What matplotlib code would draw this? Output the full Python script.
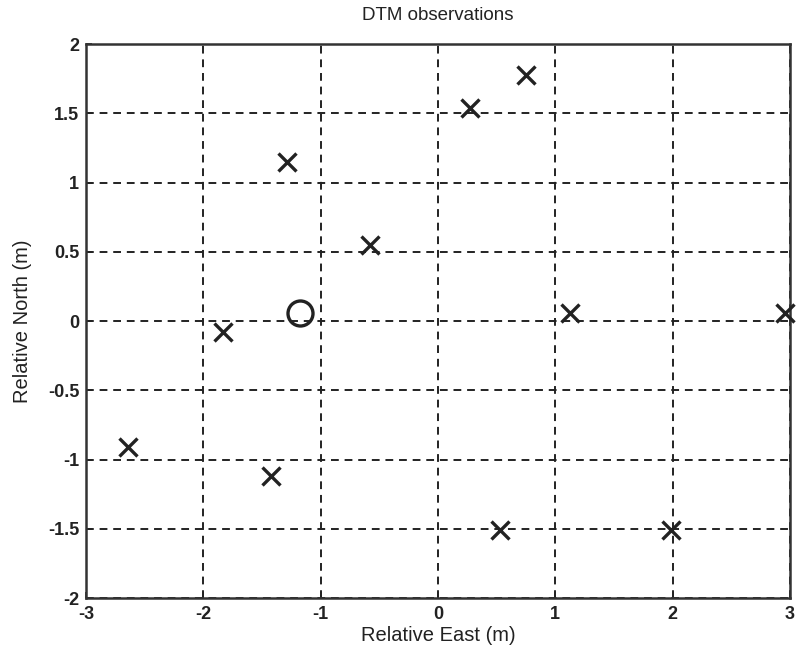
import matplotlib.pyplot as plt

# DTM observation points (relative East / North, m)
obsEast = [0.75, 0.27, -1.29, -0.58, -1.83, 1.13, 2.96, -2.64, -1.42, 0.53, 1.99]
obsNorth = [1.78, 1.54, 1.15, 0.55, -0.08, 0.06, 0.06, -0.91, -1.12, -1.51, -1.51]

# the single point marked with a circle
refEast = [-1.18]
refNorth = [0.06]

xTicks = [-3, -2, -1, 0, 1, 2, 3]
xTickLabels = ["-3", "-2", "-1", "0", "1", "2", "3"]
yTicks = [-2, -1.5, -1, -0.5, 0, 0.5, 1, 1.5, 2]
yTickLabels = ["-2", "-1.5", "-1", "-0.5", "0", "0.5", "1", "1.5", "2"]

plt.rcParams['font.family'] = ['Liberation Sans', 'DejaVu Sans']

fig = plt.figure(figsize=(7.97, 6.58), dpi=100)
ax = fig.add_axes([0.108, 0.091, 0.883, 0.842])

ax.plot(obsEast, obsNorth,
        linestyle='None',
        marker='x',
        markersize=13,
        markeredgewidth=2.4,
        c='#222222',
        clip_on=False,
        zorder=3)
ax.plot(refEast, refNorth,
        linestyle='None',
        marker='o',
        markersize=18,
        markerfacecolor='none',
        markeredgewidth=2.4,
        c='#222222',
        zorder=3)

ax.set_xlim(-3, 3)
ax.set_ylim(-2, 2)
ax.set_xticks(xTicks)
ax.set_xticklabels(xTickLabels, fontweight='bold')
ax.set_yticks(yTicks)
ax.set_yticklabels(yTickLabels, fontweight='bold')
ax.tick_params(direction='in', labelsize=13, length=4, width=1.2, colors='#222222')
ax.tick_params(axis='x', pad=6)
ax.tick_params(axis='y', pad=5)

ax.grid(True, linestyle=(0, (4, 3)), color='#222222', linewidth=1.4)
for spine in ax.spines.values():
    spine.set_linewidth(1.8)
    spine.set_color('#333333')

ax.set_xlabel("Relative East (m)", fontsize=14.5, color='#222222', labelpad=2)
ax.set_ylabel("Relative North (m)", fontsize=14.5, color='#222222', labelpad=11)
ax.set_title("DTM observations", fontsize=13.5, color='#222222', pad=17)

plt.savefig("out.png", dpi=100)
